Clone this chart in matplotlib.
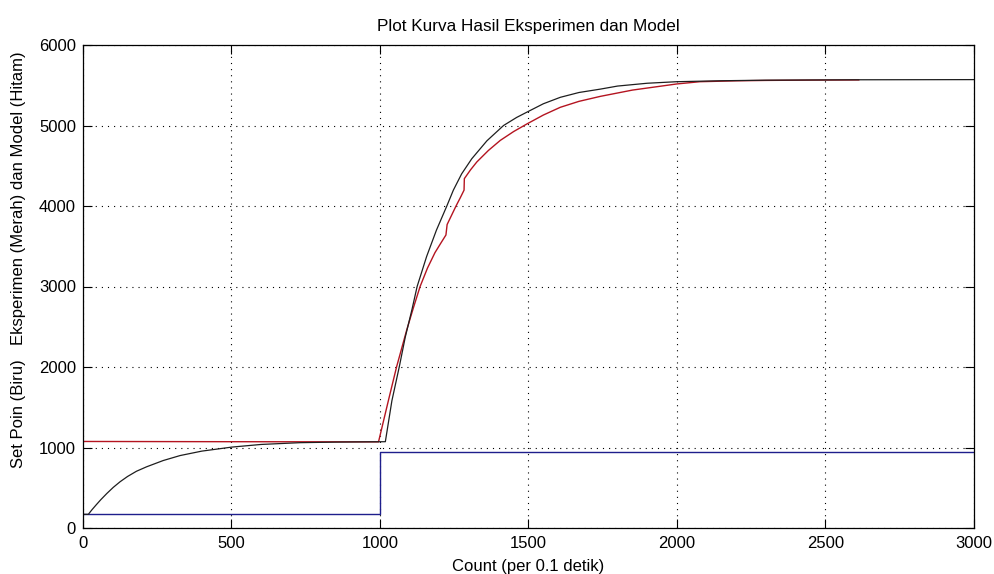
import matplotlib
matplotlib.use("Agg")
import matplotlib.pyplot as plt

plt.rcParams['font.family'] = ['Liberation Sans', 'DejaVu Sans']

# ---- data ----
setpoint_x = [0, 1000, 1000, 3000]
setpoint_y = [168, 168, 940, 940]

experiment_x = [0, 500, 995, 1030, 1056, 1090, 1112, 1135, 1160, 1185, 1205, 1222, 1226,
                1256, 1270, 1283, 1284, 1305, 1326, 1365, 1405, 1450, 1495, 1550, 1607,
                1670, 1742, 1850, 1999, 2077, 2200, 2300, 2450, 2612]
experiment_y = [1075, 1072, 1070, 1610, 2004, 2460, 2730, 3000, 3230, 3420, 3540, 3640, 3770,
                4000, 4100, 4197, 4340, 4450, 4547, 4690, 4815, 4925, 5020, 5130, 5226,
                5300, 5362, 5440, 5516, 5544, 5555, 5560, 5564, 5566]

model_x = [0, 18, 30, 44, 60, 80, 102, 125, 150, 180, 214, 270, 327, 400, 501, 600,
           731, 850, 1018, 1040, 1065, 1085, 1108, 1125, 1157, 1190, 1225, 1247, 1275,
           1309, 1360, 1416, 1460, 1500, 1550, 1607, 1670, 1742, 1800, 1900, 1999,
           2150, 2300, 2600, 3000]
model_y = [170, 170, 226, 286, 352, 428, 505, 575, 640, 705, 760, 838, 900, 955, 1005, 1038,
           1060, 1067, 1072, 1580, 2004, 2370, 2720, 3000, 3373, 3700, 4000, 4197, 4400,
           4587, 4810, 5000, 5100, 5176, 5270, 5350, 5410, 5452, 5490, 5525, 5544,
           5556, 5563, 5568, 5570]

x_ticks = [0, 500, 1000, 1500, 2000, 2500, 3000]
y_ticks = [0, 1000, 2000, 3000, 4000, 5000, 6000]

title_text = "Plot Kurva Hasil Eksperimen dan Model"
xlabel_text = "Count (per 0.1 detik)"
ylabel_lower = "Set Poin (Biru)"
ylabel_upper = "Eksperimen (Merah) dan Model (Hitam)"

# ---- figure ----
W, H = 995, 574
fig = plt.figure(figsize=(W / 100, H / 100), dpi=100)
fig.patch.set_facecolor('white')
L, R, T, B = 83, 974, 45, 528
ax = fig.add_axes([L / W, (H - B) / H, (R - L) / W, (B - T) / H])

ax.plot(setpoint_x, setpoint_y, color='#1e1e8c', lw=1.0)
ax.plot(experiment_x, experiment_y, color='#b41420', lw=1.0)
ax.plot(model_x, model_y, color='#1e1e1e', lw=0.9)

ax.set_xlim(0, 3000)
ax.set_ylim(0, 6000)
ax.set_xticks(x_ticks)
ax.set_yticks(y_ticks)
ax.tick_params(direction='in', length=6.5, width=0.8, top=True, right=True,
               labelsize=12, colors='black', pad=5)
ax.tick_params(axis='x', pad=6)
for s in ax.spines.values():
    s.set_linewidth(0.9)
    s.set_color('black')
ax.grid(True, color='black', linestyle=(0, (1, 4.5)), linewidth=0.8)
ax.set_axisbelow(True)

ax.set_title(title_text, fontsize=12.3, pad=10)
fig.text(528 / W, 1 - 567 / H, xlabel_text, ha='center', va='center', fontsize=12)
fig.text(19 / W, 1 - 413.5 / H, ylabel_lower, ha='center', va='center',
         rotation=90, fontsize=12)
fig.text(19 / W, 1 - 198.5 / H, ylabel_upper, ha='center', va='center',
         rotation=90, fontsize=12)

fig.savefig("out.png", dpi=100)
